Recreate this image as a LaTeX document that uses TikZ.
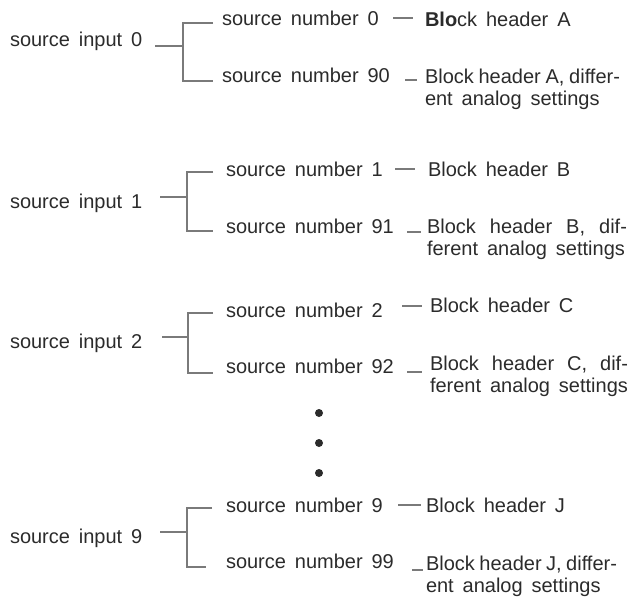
\documentclass[tikz,border=0pt]{standalone}
\usepackage{fontspec}
\setmainfont{Liberation Sans}[WordSpace=1.6]
\definecolor{txt}{HTML}{2B2B2B}
\definecolor{ln}{HTML}{7A7A7A}
\newcommand{\firstline}[2]{\makebox[#1][s]{\spaceskip=0.2em plus 2em minus 0.05em\relax #2}}
\begin{document}
\begin{tikzpicture}[x=1pt,y=-1pt,
  lbl/.style={anchor=base west, inner sep=0pt, outer sep=0pt, text=txt, font=\fontsize{20}{22.5}\selectfont},
  two/.style={lbl, align=left},
  conn/.style={draw=ln, line width=1.7pt},
  tick/.style={draw=ln, line width=1.5pt},
  dotmark/.style={circle, fill=txt, draw=none, inner sep=0pt, minimum size=8pt}]
\useasboundingbox (0,0) rectangle (629,598);

% ---------- block 0
\node[lbl] (in0) at (10,46) {source input 0};
\node[lbl] (sa0) at (222,25) {source number 0};
\node[lbl] (sb0) at (222,82) {source number 90};
\node[lbl] (ha0) at (425,26) {\textbf{Blo}ck header A};
\node[two] (hb0) at (425,105.5) {\firstline{195pt}{Block header A, differ-}\\ent analog settings};
\coordinate (s0) at (155,46); \coordinate (j0) at (183,46);
\coordinate (t0) at (183,23); \coordinate (b0) at (183,81);
\coordinate (te0) at (213,23); \coordinate (be0) at (213,81);
\draw[conn] (s0) -- (j0);
\draw[conn] (te0) -- (t0) -- (b0) -- (be0);
\coordinate (da0) at (393,18); \coordinate (dA0) at (413,18);
\coordinate (db0) at (405,80); \coordinate (dB0) at (417,80);
\draw[tick] (da0) -- (dA0);
\draw[tick] (db0) -- (dB0);

% ---------- block 1
\node[lbl] (in1) at (10,208) {source input 1};
\node[lbl] (sa1) at (226,176) {source number 1};
\node[lbl] (sb1) at (226,233) {source number 91};
\node[lbl] (ha1) at (428,176) {Block header B};
\node[two] (hb1) at (427,255.5) {\firstline{200pt}{Block header B, dif-}\\ferent analog settings};
\coordinate (s1) at (160,197); \coordinate (j1) at (187,197);
\coordinate (t1) at (187,172); \coordinate (b1) at (187,231);
\coordinate (te1) at (213,172); \coordinate (be1) at (213,231);
\draw[conn] (s1) -- (j1);
\draw[conn] (te1) -- (t1) -- (b1) -- (be1);
\coordinate (da1) at (395,169); \coordinate (dA1) at (415,169);
\coordinate (db1) at (407,232); \coordinate (dB1) at (421,232);
\draw[tick] (da1) -- (dA1);
\draw[tick] (db1) -- (dB1);

% ---------- block 2
\node[lbl] (in2) at (10,348) {source input 2};
\node[lbl] (sa2) at (226,317) {source number 2};
\node[lbl] (sb2) at (226,373) {source number 92};
\node[lbl] (ha2) at (430,312) {Block header C};
\node[two] (hb2) at (430,392.5) {\firstline{198pt}{Block header C, dif-}\\ferent analog settings};
\coordinate (s2) at (162,337); \coordinate (j2) at (188,337);
\coordinate (t2) at (188,313); \coordinate (b2) at (188,373);
\coordinate (te2) at (213,313); \coordinate (be2) at (213,373);
\draw[conn] (s2) -- (j2);
\draw[conn] (te2) -- (t2) -- (b2) -- (be2);
\coordinate (da2) at (402,306); \coordinate (dA2) at (422,306);
\coordinate (db2) at (407,372); \coordinate (dB2) at (422,372);
\draw[tick] (da2) -- (dA2);
\draw[tick] (db2) -- (dB2);

% ---------- dots
\node[dotmark] (dot1) at (319,413) {};
\node[dotmark] (dot2) at (319,443) {};
\node[dotmark] (dot3) at (319,473) {};

% ---------- block 9
\node[lbl] (in9) at (10,543) {source input 9};
\node[lbl] (sa9) at (226,512) {source number 9};
\node[lbl] (sb9) at (226,568) {source number 99};
\node[lbl] (ha9) at (426,512) {Block header J};
\node[two] (hb9) at (426,592.5) {\firstline{191pt}{Block header J, differ-}\\ent analog settings};
\coordinate (s9) at (160,532); \coordinate (j9) at (187,532);
\coordinate (t9) at (187,508); \coordinate (b9) at (187,567);
\coordinate (te9) at (212,508); \coordinate (be9) at (206,567);
\draw[conn] (s9) -- (j9);
\draw[conn] (te9) -- (t9) -- (b9) -- (be9);
\coordinate (da9) at (398,505); \coordinate (dA9) at (421,505);
\coordinate (db9) at (412,570); \coordinate (dB9) at (423,570);
\draw[tick] (da9) -- (dA9);
\draw[tick] (db9) -- (dB9);
\end{tikzpicture}
\end{document}
